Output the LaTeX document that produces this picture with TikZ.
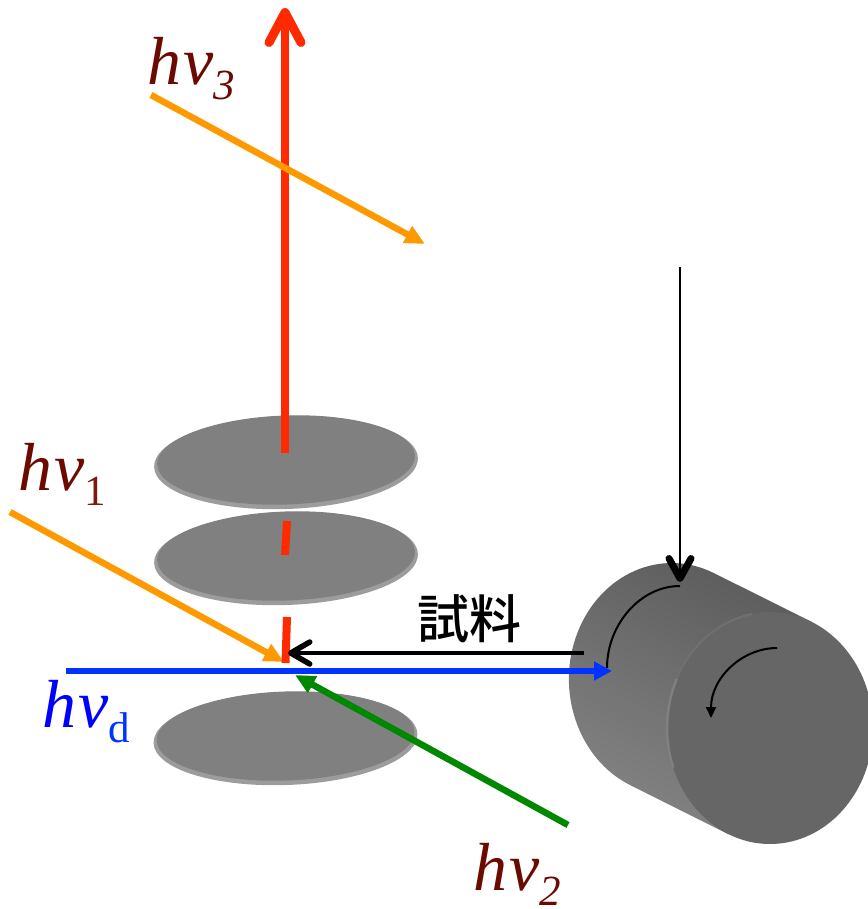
\documentclass[tikz,border=0pt]{standalone}
\usepackage{fontspec}
\setmainfont{Liberation Serif}
\newfontfamily\cjk{Noto Sans CJK JP Medium}
\usetikzlibrary{arrows.meta,shapes.geometric}
\definecolor{laser}{HTML}{FF2A00}
\definecolor{pump}{HTML}{FF9900}
\definecolor{probe}{HTML}{008800}
\definecolor{detect}{HTML}{0033FF}
\definecolor{wine}{HTML}{6B0A00}
\definecolor{winesub}{HTML}{7A1A10}
\definecolor{discgray}{HTML}{808080}
\definecolor{rimgray}{HTML}{9C9C9C}
\newcommand{\hnu}[2]{\textit{h\kern2ptν}\raisebox{-15pt}{\fontsize{43}{43}\selectfont\color{#1}#2}}
\tikzset{
  disc/.style={ellipse,fill=discgray,inner sep=0pt,minimum width=258pt,minimum height=89pt,rotate=2},
  discrim/.style={ellipse,fill=rimgray,inner sep=0pt,minimum width=264pt,minimum height=93pt,rotate=2},
  beam/.style={line width=6.5pt},
  photon/.style={inner sep=0pt,anchor=base west,font=\fontsize{68}{68}\selectfont},
}
\begin{document}
\begin{tikzpicture}[x=1pt,y=-1pt]
    \useasboundingbox (0,0) rectangle (867,909);
    % discs
    \node[discrim] (rim1) at (286,462.5) {};
    \node[disc] (disc1) at (286,460) {};
    \node[discrim] (rim2) at (286,558.5) {};
    \node[disc] (disc2) at (286,556) {};
    \node[discrim] (rim3) at (285.5,738.5) {};
    \node[disc] (disc3) at (285.5,736) {};
    % cylinder
    \coordinate (fronttop) at (812,622);
    \coordinate (frontbot) at (728,834);
    \coordinate (backbot) at (630,785);
    \begin{scope}
      \clip (backbot) arc[start angle=114,end angle=294,x radius=103,y radius=116] -- (fronttop) -- (frontbot) -- cycle;
      \shade[top color=black!64,bottom color=black!48,shading angle=-27] (560,560) rectangle (830,840);
    \end{scope}
    \fill[black!60] (770,728) ellipse (103 and 116);
    \draw[black!56,line width=2pt] (752,614) arc[start angle=260,end angle=205,x radius=103,y radius=116];
    \draw[black!50,line width=2.5pt] (676.7,679) arc[start angle=205,end angle=160,x radius=103,y radius=116];
    % rotation marks
    \coordinate (backa) at (680,586);
    \coordinate (backb) at (607,668);
    \coordinate (fronta) at (777,648);
    \coordinate (frontb) at (711,718);
    \draw[line width=2pt] (backa) .. controls (640,586) and (607,625) .. (backb);
    \draw[line width=2pt,-{Triangle[length=11pt,width=10pt]}] (fronta) .. controls (742,648) and (711,678) .. (frontb);
    \coordinate (dropa) at (680,267);
    \coordinate (dropb) at (680,582);
    \draw[line width=2.5pt,-{Straight Barb[length=20pt,width=22pt,line width=7pt,round]}] (dropa) -- (dropb);
    % signal beam
    \coordinate (sigbot) at (285,453);
    \coordinate (sigtop) at (285,8);
    \draw[laser,line width=8pt,-{Straight Barb[length=30pt,width=32pt,line width=9pt,round]}] (sigbot) -- (sigtop);
    \coordinate (dasha) at (287,521);
    \coordinate (dashb) at (285,555);
    \draw[laser,line width=8pt] (dasha) -- (dashb);
    % beams
    \coordinate (pumpa) at (10,512);
    \coordinate (pumpb) at (284,662);
    \draw[pump,beam,-{Triangle[length=20pt,width=18pt]}] (pumpa) -- (pumpb);
    \coordinate (dashc) at (287,617);
    \coordinate (dashd) at (285.5,663);
    \draw[laser,line width=8pt] (dashc) -- (dashd);
    \coordinate (upa) at (151,95);
    \coordinate (upb) at (425,244);
    \draw[pump,beam,-{Triangle[length=20pt,width=18pt]}] (upa) -- (upb);
    \coordinate (proa) at (568,825);
    \coordinate (prob) at (295,675);
    \draw[probe,beam,-{Triangle[length=20pt,width=18pt]}] (proa) -- (prob);
    \coordinate (deta) at (66,671);
    \coordinate (detb) at (612,671);
    \draw[detect,beam,-{Triangle[length=18pt,width=18pt]}] (deta) -- (detb);
    \coordinate (sama) at (584,653);
    \coordinate (samb) at (288,653);
    \draw[line width=4pt,-{Straight Barb[length=19pt,width=22pt,line width=5.5pt,round]}] (sama) -- (samb);
    % labels
    \node[photon,text=wine] (hv3) at (147,85) {\hnu{wine}{\textit{3}}};
    \node[photon,text=wine] (hv1) at (18,490) {\hnu{winesub}{1}};
    \node[photon,text=blue] (hvd) at (42,727) {\hnu{detect}{d}};
    \node[photon,text=wine] (hv2) at (473,890) {\hnu{wine}{\textit{2}}};
    \node[inner sep=0pt,anchor=base,font=\cjk\fontsize{52}{52}\selectfont] (sample) at (469,638) {試料};
  \end{tikzpicture}
\end{document}
